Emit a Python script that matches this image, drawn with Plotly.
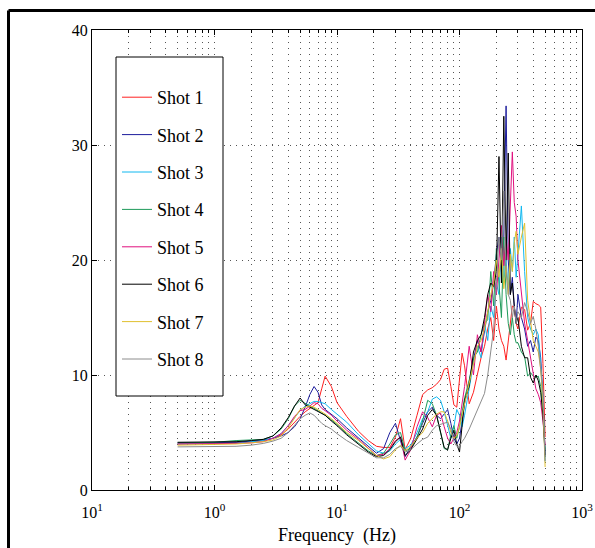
import plotly.graph_objects as go

FREQ = [0.5, 1, 1.5, 2, 2.5, 3, 3.5, 4, 4.5, 5,
        5.5, 6, 6.5, 7, 7.5, 8, 9, 10, 12, 15,
        18, 21, 24, 27, 30, 33, 36, 40, 45, 50,
        55, 60, 65, 70, 75, 80, 85, 90, 95, 100,
        105, 110, 120, 130, 140, 150, 160, 170, 180, 190,
        200, 210, 220, 230, 240, 250, 260, 270, 280, 290,
        300, 320, 340, 360, 380, 400, 420, 440, 460, 480,
        500]

SHOT1 = [4.0, 4.05, 4.1, 4.2, 4.3, 4.5, 4.8, 5.3, 5.9, 6.4,
         6.8, 7.1, 7.3, 7.6, 8.8, 9.9, 9.0, 7.6, 6.4, 5.1,
         4.3, 3.8, 3.7, 3.7, 4.6, 6.2, 3.5, 4.5, 6.5, 8.3,
         8.7, 8.9, 9.2, 9.6, 10.5, 10.6, 9.0, 7.4, 7.2, 9.5,
         11.9, 10.8, 7.5, 8.5, 10.1, 11.5, 12.5, 14.0, 15.0, 13.0,
         16.0, 14.0, 13.0, 12.5, 11.3, 13.0, 14.5, 16.0, 15.9, 14.5,
         14.0, 15.9, 15.7, 13.9, 14.5, 16.4, 16.2, 16.1, 15.9, 11.0,
         4.6]
SHOT2 = [4.1, 4.1, 4.15, 4.25, 4.35, 4.5, 4.7, 5.0, 5.5, 6.2,
         7.2, 8.3, 9.0, 8.5, 7.4, 7.0, 6.6, 6.2, 5.4, 4.5,
         3.8, 3.2, 3.6, 5.0, 5.8, 4.3, 2.9, 3.8, 4.6, 5.8,
         6.8, 7.2, 6.5, 6.2, 6.6, 7.0, 5.8, 4.5, 4.0, 4.5,
         6.0, 7.5, 9.5, 11.5, 13.0, 12.0, 14.0, 15.5, 16.5, 18.0,
         20.5, 22.0, 19.0, 22.0, 33.4, 20.0, 17.0, 18.5, 16.0, 14.5,
         17.0, 15.0, 14.0, 12.5, 13.0, 12.0, 13.3, 13.0, 11.5, 8.0,
         3.0]
SHOT3 = [4.0, 4.0, 4.05, 4.2, 4.3, 4.5, 4.9, 5.6, 6.3, 6.9,
         7.3, 7.5, 7.7, 7.7, 7.6, 7.5, 7.0, 6.6, 5.9, 4.8,
         4.0, 3.4, 3.2, 3.4, 4.0, 4.4, 3.6, 3.9, 5.0, 6.2,
         6.8, 7.9, 8.1, 7.8, 6.8, 5.5, 4.5, 5.5, 7.0, 6.5,
         5.5, 6.5, 9.0, 11.0, 12.5, 11.5, 14.5, 13.0, 16.0, 15.0,
         18.0, 17.0, 22.0, 18.0, 20.0, 17.5, 21.0, 19.0, 22.0, 18.5,
         20.5, 24.7, 19.0, 15.0, 14.0, 13.5, 14.0, 13.5, 11.0, 8.0,
         2.5]
SHOT4 = [4.1, 4.15, 4.3, 4.35, 4.4, 4.7, 5.3, 6.2, 7.3, 7.8,
         7.5, 7.3, 7.1, 6.9, 6.7, 6.5, 6.1, 5.7, 4.9, 4.1,
         3.4, 3.0, 3.2, 4.0, 4.8, 5.0, 3.4, 3.6, 4.6, 6.0,
         7.8, 7.5, 6.5, 5.0, 3.6, 3.5, 4.8, 5.6, 4.5, 5.5,
         7.0, 8.0, 9.5, 11.5, 12.0, 13.5, 14.5, 14.8, 19.0, 16.0,
         21.0, 18.0, 15.0, 22.0, 17.0, 14.5, 13.5, 15.0, 13.5, 12.8,
         12.8, 12.0, 11.6, 9.9, 10.2, 9.9, 9.8, 9.9, 9.0, 7.0,
         3.5]
SHOT5 = [4.0, 4.0, 4.05, 4.1, 4.2, 4.5, 4.9, 5.6, 6.4, 6.9,
         7.0, 7.3, 7.6, 7.5, 7.1, 6.9, 6.5, 6.0, 5.2, 4.4,
         3.6, 3.0, 3.1, 3.6, 4.3, 4.6, 2.6, 3.5, 5.5, 6.8,
         6.3, 5.5, 6.5, 6.7, 5.5, 4.5, 4.0, 4.5, 5.0, 6.0,
         7.5, 9.0, 12.5, 10.0, 13.5, 12.0, 14.5, 17.0, 15.5, 19.0,
         17.0, 20.0, 23.0, 19.5, 22.0, 20.0, 24.5, 29.4, 25.0, 23.8,
         20.0, 17.0, 14.5, 13.0, 11.5, 9.9, 8.8, 8.3, 7.6, 6.0,
         3.9]
SHOT6 = [4.15, 4.15, 4.2, 4.3, 4.4, 4.7, 5.4, 6.3, 7.3, 8.0,
         7.4, 7.2, 7.0, 6.8, 6.7, 6.5, 6.0, 5.6, 4.8, 4.0,
         3.3, 2.9, 3.0, 3.5, 4.2, 4.6, 3.0, 3.5, 4.5, 5.3,
         6.5, 7.0, 6.5, 5.0, 3.7, 3.5, 4.5, 5.2, 4.0, 3.3,
         5.5, 7.8, 9.0, 12.0, 13.0, 13.5, 15.0, 17.0, 18.0, 17.7,
         19.0, 29.0, 18.0, 32.5, 20.0, 29.3, 17.0, 18.0, 16.0, 14.5,
         15.0, 12.5, 11.5, 11.5, 9.8, 9.3, 10.0, 9.5, 8.5, 6.5,
         3.0]
SHOT7 = [3.9, 3.95, 4.0, 4.1, 4.2, 4.35, 4.7, 5.4, 6.3, 7.0,
         7.2, 7.3, 7.2, 7.0, 6.8, 6.6, 6.2, 5.8, 5.0, 4.3,
         3.6, 3.0, 2.7, 2.9, 3.5, 3.9, 3.4, 3.8, 4.5, 5.0,
         5.8, 6.2, 6.6, 6.8, 6.8, 6.0, 5.0, 4.5, 4.7, 5.5,
         6.5, 7.5, 9.5, 11.0, 12.5, 13.0, 14.0, 15.5, 17.0, 18.0,
         20.0, 18.5, 21.0, 17.5, 19.5, 17.0, 20.5, 19.0, 21.5, 22.5,
         20.5, 22.0, 23.2, 16.5, 14.5, 13.0, 12.5, 12.0, 10.5, 7.5,
         2.0]
SHOT8 = [3.75, 3.75, 3.8, 3.9, 4.05, 4.25, 4.5, 5.0, 5.6, 6.2,
         6.5, 6.7, 6.5, 6.1, 5.8, 5.6, 5.3, 4.9, 4.3, 3.7,
         3.2, 2.8, 2.8, 3.1, 3.6, 3.8, 3.3, 3.5, 4.0, 4.4,
         4.6, 5.2, 5.6, 5.7, 5.8, 5.9, 5.3, 4.2, 3.8, 3.8,
         4.2, 4.5, 5.3, 6.2, 7.0, 7.8, 8.4, 10.0, 12.0, 14.0,
         18.0, 22.0, 20.0, 26.0, 19.0, 17.0, 16.5, 15.0, 16.0, 14.5,
         15.5, 15.0, 16.3, 15.5, 14.5, 15.1, 14.0, 12.5, 10.5, 8.5,
         2.5]

NAMES = ["Shot 1", "Shot 2", "Shot 3", "Shot 4", "Shot 5", "Shot 6", "Shot 7", "Shot 8"]
SERIES = [SHOT1, SHOT2, SHOT3, SHOT4, SHOT5, SHOT6, SHOT7, SHOT8]
COLORS = ["#ff2020", "#1c1c9c", "#10b8f0", "#1e9a5a", "#e0107e", "#000000", "#e0c030", "#8c8c8c"]

XTICK_VALS = [0.1, 1, 10, 100, 1000]
XTICK_TEXT = ["10<sup>1</sup>", "10<sup>0</sup>", "10<sup>1</sup>", "10<sup>2</sup>", "10<sup>3</sup>"]
YTICK_VALS = [0, 10, 20, 30, 40]

FONT = "Liberation Serif, Times New Roman, serif"

fig = go.Figure()
for i, (name, vals, col) in enumerate(zip(NAMES, SERIES, COLORS)):
    fig.add_trace(go.Scatter(x=FREQ, y=vals, mode="lines", name=name,
                             legendgroup=f"g{i}",
                             line=dict(color=col, width=1)))

W, H = 595, 548
L, R, T, B = 92, 13, 30, 58
pw, ph = W - L - R, H - T - B

def px(x):
    return (x - L) / pw

def py(y):
    return (H - B - y) / ph

grid_dash = "1px,5px"
fig.update_layout(
    width=W, height=H, autosize=False,
    margin=dict(l=L, r=R, t=T, b=B),
    paper_bgcolor="white", plot_bgcolor="white",
    font=dict(family=FONT, color="black", size=15),
    showlegend=True,
    legend=dict(x=px(117), y=py(79), xanchor="left", yanchor="top",
                bgcolor="rgba(0,0,0,0)", borderwidth=0,
                font=dict(family=FONT, size=18, color="black"),
                tracegroupgap=11, itemwidth=30),
    xaxis=dict(type="log", range=[-1, 3], tickvals=XTICK_VALS, ticktext=XTICK_TEXT,
               ticks="inside", ticklen=5, tickcolor="black", mirror="ticks",
               showline=True, linecolor="black", linewidth=1,
               showgrid=True, gridcolor="#555555", griddash=grid_dash, gridwidth=1,
               tickfont=dict(family=FONT, size=16), ticklabelstandoff=8,
               minor=dict(dtick="D1", ticks="inside", ticklen=3, tickcolor="black",
                          showgrid=True, gridcolor="#555555", griddash=grid_dash, gridwidth=1),
               title=dict(text="Frequency\u00a0 (Hz)", font=dict(family=FONT, size=18), standoff=8),
               automargin=False, zeroline=False),
    yaxis=dict(range=[0, 40], tickvals=YTICK_VALS,
               ticks="inside", ticklen=5, tickcolor="black", mirror="ticks",
               showline=True, linecolor="black", linewidth=1,
               showgrid=True, gridcolor="#555555", griddash=grid_dash, gridwidth=1,
               tickfont=dict(family=FONT, size=16),
               automargin=False, zeroline=False),
    shapes=[
        dict(type="rect", xref="paper", yref="paper",
             x0=px(116), x1=px(223), y0=py(57), y1=py(396),
             line=dict(color="black", width=1), fillcolor="white", layer="above"),
        dict(type="line", xref="paper", yref="paper",
             x0=px(8.5), x1=px(8.5), y0=py(10.5), y1=py(560),
             line=dict(color="black", width=3)),
        dict(type="line", xref="paper", yref="paper",
             x0=px(8.5), x1=px(610), y0=py(10.5), y1=py(10.5),
             line=dict(color="black", width=3)),
    ],
)

fig.write_html("out.html", config={"responsive": False})
